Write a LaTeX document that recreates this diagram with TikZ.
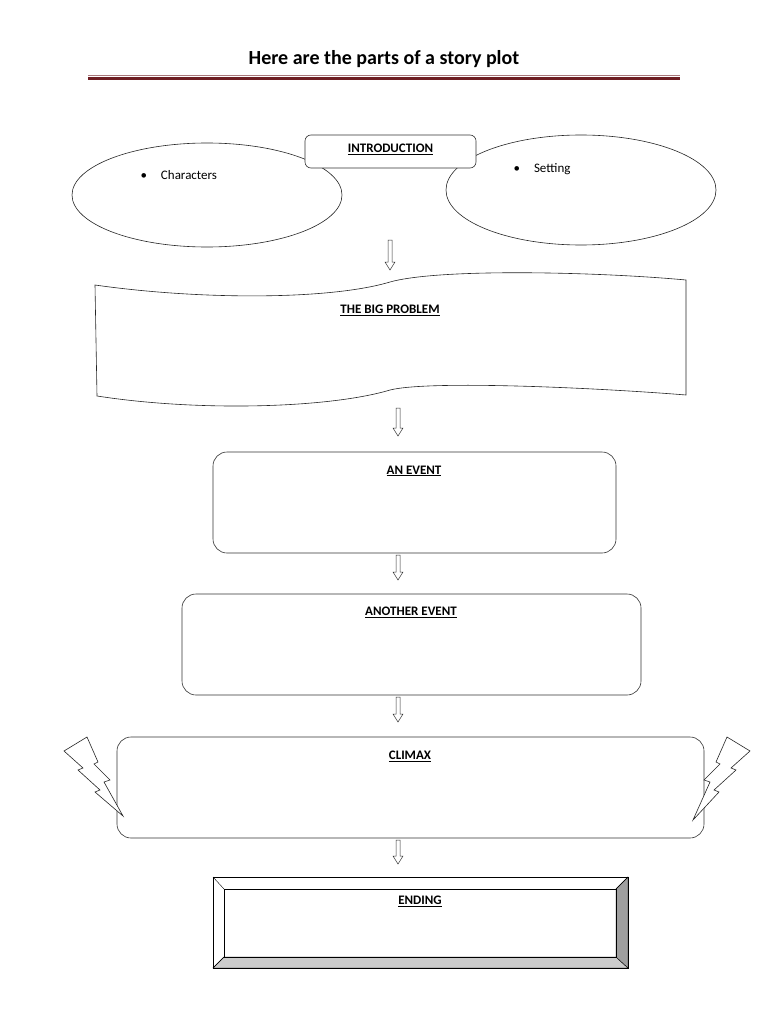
\documentclass[tikz,border=0pt]{standalone}
\usepackage{fontspec}
\setmainfont{Carlito}
\usetikzlibrary{shapes.geometric}
\definecolor{rulered}{RGB}{110,30,35}
\tikzset{
  lbl/.style={font=\bfseries\fontsize{13}{15}\selectfont},
  ev/.style={draw=black!80,rounded corners=14pt,line width=0.6pt},
  oval/.style={draw=black!85,line width=0.6pt},
  hollowarrow/.style={draw=black!80,fill=white,line width=0.5pt},
}
\newcommand{\downarr}[3]{% x, ytop, ybottom
  \draw[hollowarrow] (#1-2,#2) -- (#1+2,#2) -- (#1+2,#3-8) -- (#1+5,#3-8) -- (#1,#3) -- (#1-5,#3-8) -- (#1-2,#3-8) -- cycle;}
\begin{document}
\begin{tikzpicture}[x=1pt,y=-1pt]
\useasboundingbox[fill=white] (0,0) rectangle (768,1024);
\node (title) at (384,59) {\bfseries\fontsize{20}{22}\selectfont Here are the parts of a story plot};
\fill[rulered!60] (88,75) rectangle (680,76.3);
\fill[rulered] (88,77.3) rectangle (680,80);
% ellipses
\node[oval,ellipse,minimum width=270,minimum height=104] (chars) at (207,195) {};
\node[oval,ellipse,minimum width=270,minimum height=110] (set) at (581,190) {};
\node[font=\fontsize{13}{15}\selectfont,anchor=west] at (137,175) {\textbullet\hspace{14pt}Characters};
\node[font=\fontsize{13}{15}\selectfont,anchor=west] at (510,169) {\textbullet\hspace{14pt}Setting};
% intro
\node[draw=black!80,fill=white,rounded corners=6pt,minimum width=171,minimum height=33,line width=0.6pt] (intro) at (390.5,151.5) {};
\node[lbl] at (390.5,149) {\underline{INTRODUCTION}};
\downarr{390}{240}{270}
% wavy
\draw[oval] (95,285) .. controls (200,300) and (330,300) .. (390,282) .. controls (440,268) and (600,272) .. (686,280)
  -- (686,395) .. controls (600,388) and (430,380) .. (390,390) .. controls (330,408) and (200,412) .. (97,396) -- cycle;
\node[lbl] (prob) at (390,310) {\underline{THE BIG PROBLEM}};
\downarr{398}{408}{436}
\draw[ev] (213,452) rectangle (616,553);
\node[lbl] (e1) at (414,471) {\underline{AN EVENT}};
\downarr{398}{555}{580}
\draw[ev] (182,594) rectangle (641,695);
\node[lbl] (e2) at (411,612) {\underline{ANOTHER EVENT}};
\downarr{398}{697}{722}
\draw[ev] (117,737) rectangle (704,838);
\node[lbl] (cl) at (410,756) {\underline{CLIMAX}};
\downarr{398}{840}{864}
% lightning
\draw[fill=white,draw=black!85,line width=0.6pt] (64,751) -- (87,737) -- (98,762) -- (94,764) -- (110,780) -- (104,782) -- (123,816) -- (95,792) -- (100,790) -- (78,770) -- (83,768) -- cycle;
\draw[fill=white,draw=black!85,line width=0.6pt] (750,751) -- (727,737) -- (716,762) -- (720,764) -- (704,780) -- (710,782) -- (693,820) -- (719,792) -- (714,790) -- (736,770) -- (731,768) -- cycle;
% ending
\draw[fill=gray!40] (213,968) -- (224,957) -- (616,957) -- (628,968) -- cycle;
\draw[fill=gray!75] (628,877) -- (616,889) -- (616,957) -- (628,968) -- cycle;
\draw[line width=0.7pt] (213,877) rectangle (628,968);
\draw[line width=0.6pt] (224,889) rectangle (616,957);
\draw (213,877) -- (224,889) (628,877) -- (616,889) (213,968) -- (224,957);
\node[lbl] (end) at (420,901) {\underline{ENDING}};
\end{tikzpicture}
\end{document}
